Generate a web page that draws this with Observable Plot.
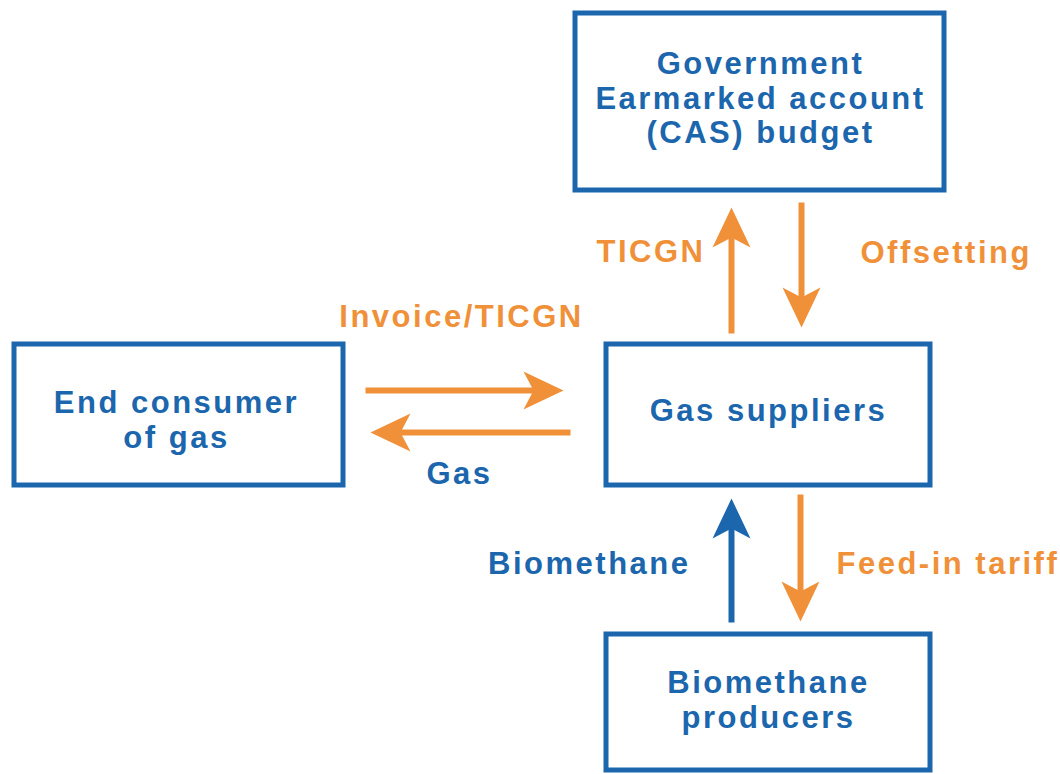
<!DOCTYPE html>
<html><head><meta charset="utf-8">
<script src="https://cdn.jsdelivr.net/npm/d3@7"></script>
<script src="https://cdn.jsdelivr.net/npm/@observablehq/plot@0.6"></script>
<style>
body{margin:0;background:#fff}
#chart text{letter-spacing:2.5px}
</style></head><body><div id="chart"></div>
<script>
// Nodes of the flow diagram
const boxLabels = ["Government\nEarmarked account\n(CAS) budget", "End consumer\nof gas", "Gas suppliers", "Biomethane\nproducers"];
const boxLeft   = [575, 14, 606, 606];
const boxRight  = [944, 343, 930, 930];
const boxTop    = [13, 344, 344, 634];
const boxBottom = [190, 485, 485, 770];
const boxTextX  = [760, 176, 768, 768];
const boxTextY  = [97, 419, 409, 699];

// Flows (arrows)
const flowNames  = ["Invoice/TICGN", "Gas", "TICGN", "Offsetting", "Biomethane", "Feed-in tariff"];
const flowFromX  = [365, 570, 731, 801, 731, 800];
const flowFromY  = [390, 432, 333, 202, 622, 494];
const flowToX    = [563, 370, 731, 801, 731, 800];
const flowToY    = [390, 432, 207, 327, 498, 621];
const flowType   = ["money", "money", "money", "money", "gas", "money"];

// Flow labels
const labelX      = [461, 459, 705, 860, 690, 836];
const labelY      = [315, 472, 250, 251, 562, 562];
const labelAnchor = ["middle", "middle", "end", "start", "end", "start"];
const labelType   = ["money", "gas", "money", "money", "gas", "money"];

const BLUE = "#1b66ad", ORANGE = "#f0913a";
const colorOf = t => t === "gas" ? BLUE : ORANGE;

const boxes = boxLabels.map((label, i) => ({label, x1: boxLeft[i], x2: boxRight[i], y1: boxTop[i], y2: boxBottom[i], tx: boxTextX[i], ty: boxTextY[i]}));
const flows = flowNames.map((name, i) => {
  const dx = flowToX[i] - flowFromX[i], dy = flowToY[i] - flowFromY[i];
  const len = Math.hypot(dx, dy);
  const angle = Math.atan2(dx, -dy) * 180 / Math.PI;
  return {name, x1: flowFromX[i], y1: flowFromY[i], x2: flowToX[i], y2: flowToY[i],
    sx: flowToX[i] - dx / len * 28, sy: flowToY[i] - dy / len * 28,
    angle, color: colorOf(flowType[i])};
});
const labels = flowNames.map((text, i) => ({text, x: labelX[i], y: labelY[i], anchor: labelAnchor[i], color: colorOf(labelType[i])}));

const arrowHead = {
  draw(ctx) {
    ctx.moveTo(0, 0);
    ctx.lineTo(19, 40);
    ctx.lineTo(0, 30);
    ctx.lineTo(-19, 40);
    ctx.closePath();
  }
};

const font = {fontSize: 31, fontWeight: "bold", fontFamily: "Liberation Sans, Arial, sans-serif", lineHeight: 1.11, lineAnchor: "middle"};

const chart = Plot.plot({
  width: 1060, height: 774, margin: 0,
  x: {domain: [0, 1060], range: [0, 1060], axis: null},
  y: {domain: [0, 774], range: [0, 774], axis: null},
  color: {type: "identity"},
  marks: [
    Plot.rect(boxes, {x1: "x1", x2: "x2", y1: "y1", y2: "y2", fill: "white", stroke: BLUE, strokeWidth: 5}),
    Plot.text(boxes, {x: "tx", y: "ty", text: "label", fill: BLUE, textAnchor: "middle", ...font}),
    Plot.link(flows, {x1: "x1", y1: "y1", x2: "sx", y2: "sy", stroke: "color", strokeWidth: 6}),
    Plot.dot(flows, {x: "x2", y: "y2", symbol: arrowHead, rotate: "angle", fill: "color", stroke: "none", r: 10}),
    ...["start", "middle", "end"].map(a =>
      Plot.text(labels.filter(d => d.anchor === a), {x: "x", y: "y", text: "text", fill: "color", textAnchor: a, ...font}))
  ]
});
document.getElementById("chart").appendChild(chart);
</script></body></html>
